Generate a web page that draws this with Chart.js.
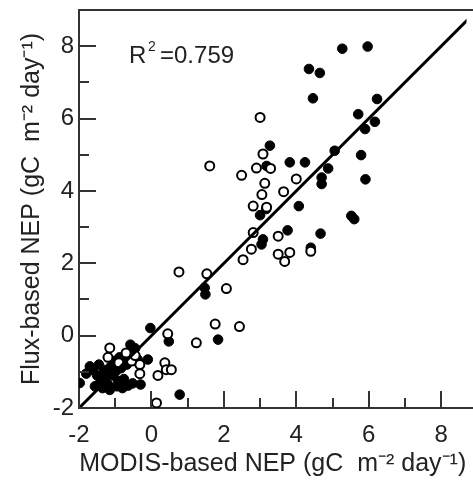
<!DOCTYPE html>
<html>
<head>
<meta charset="utf-8">
<script src="https://cdn.jsdelivr.net/npm/chart.js@4.4.0/dist/chart.umd.min.js"></script>
<style>
	body { margin: 0; background: #fff; overflow: hidden; }
</style>
</head>
<body>
<canvas id="myChart" width="473" height="482"></canvas>
<script>
// MODIS-based NEP (x) vs flux-based NEP (y), gC m-2 day-1
const filledX = [5.27, 5.97, 4.35, 4.65, 4.46, 6.23, 5.71, 6.17, 5.9, 5.06, 5.79, 3.27, 3.18, 3.82, 4.24, 4.88, 4.7, 4.7, 5.91, 4.07, 3.17, 3.0, 5.52, 5.6, 3.08, 3.04, 3.76, 4.67, 4.4, 1.47, 1.49, -0.03, 0.48, 1.84, 0.78,
	-1.98, -1.8, -1.7, -1.62, -1.56, -1.5, -1.45, -1.4, -1.35, -1.3, -1.25, -1.2, -1.12, -1.08, -1.02, -0.98, -0.92, -0.88, -0.84, -0.8, -0.76, -0.72, -0.68, -0.64, -0.58, -0.55, -0.5, -0.45, -0.38, -0.52, -0.3, -0.1, -1.15, -0.95];
const filledY = [7.93, 7.99, 7.37, 7.26, 6.56, 6.54, 6.12, 5.91, 5.71, 5.11, 4.99, 5.25, 4.69, 4.79, 4.79, 4.62, 4.37, 4.19, 4.32, 3.58, 3.5, 3.33, 3.31, 3.22, 2.66, 2.52, 2.91, 2.82, 2.43, 1.32, 1.14, 0.21, -0.16, -0.11, -1.63,
	-1.31, -1.05, -0.85, -0.95, -1.4, -1.1, -0.8, -1.25, -1.45, -0.95, -1.1, -1.35, -0.85, -1.1, -0.7, -0.98, -1.25, -0.6, -0.9, -1.45, -1.2, -0.55, -0.8, -1.38, -0.25, -0.45, -0.7, -0.35, -0.66, -1.32, -1.35, -0.66, -1.5, -1.4];

const openX = [3.0, 1.61, 2.49, 2.9, 3.08, 3.29, 3.13, 4.0, 3.05, 3.65, 2.81, 3.18, 2.81, 3.5, 2.76, 3.5, 3.82, 3.68, 2.53, 4.4, 0.76, 1.53, 2.07, 1.76, 2.43, 1.24, 0.45, 0.37, 0.41, 0.55, 0.18, 0.14,
	-0.32, -0.32, -0.55, -1.15, -0.7, -1.2, -0.9, -0.45];
const openY = [6.03, 4.69, 4.43, 4.63, 5.02, 4.62, 4.21, 4.33, 3.9, 3.98, 3.58, 3.55, 2.85, 2.75, 2.39, 2.25, 2.3, 2.05, 2.1, 2.33, 1.76, 1.71, 1.3, 0.32, 0.25, -0.2, 0.05, -0.75, -0.94, -0.94, -1.1, -1.86,
	-0.8, -1.05, -0.7, -0.34, -0.48, -0.6, -0.75, -0.55];

// 1:1 line
const lineX = [-2, 9];
const lineY = [-2, 9];

const xRange = [-2, 8.7];
const yRange = [-2, 9];
const tickValues = [-2, -1, 0, 1, 2, 3, 4, 5, 6, 7, 8];
const r2Text = "0.759";

const toPoints = (xs, ys) => xs.map((x, i) => ({ x: x, y: ys[i] }));

const FONT = "'Liberation Sans', Arial, Helvetica, sans-serif";

// no extra room for the end labels, the plot area is fixed by layout padding
const fixScale = (size) => (scale) => {
	if (scale.isHorizontal()) scale.height = size;
	else scale.width = size;
	scale.paddingTop = 0;
	scale.paddingBottom = 0;
	scale.paddingLeft = 0;
	scale.paddingRight = 0;
};

// only even values get a label
const evenLabel = (v) => (Number.isInteger(v) && v % 2 === 0 ? String(v) : "");

// inward tick marks, top frame line and the R² note
const decorations = {
	id: "decorations",
	afterDraw(chart) {
		const { ctx, chartArea } = chart;
		const xs = chart.scales.x;
		const ys = chart.scales.y;
		ctx.save();
		ctx.strokeStyle = "#333";
		ctx.lineWidth = 2;
		for (const v of tickValues) {
			const len = v % 2 === 0 ? 17 : 10;
			const px = Math.round(xs.getPixelForValue(v));
			ctx.beginPath();
			ctx.moveTo(px, xs.top);
			ctx.lineTo(px, xs.top - len);
			ctx.stroke();
			const py = Math.round(ys.getPixelForValue(v));
			ctx.beginPath();
			ctx.moveTo(ys.right, py);
			ctx.lineTo(ys.right + len, py);
			ctx.stroke();
		}
		// frame runs on to the right edge of the picture
		ctx.beginPath();
		ctx.moveTo(chartArea.left, chartArea.top);
		ctx.lineTo(chart.width, chartArea.top);
		ctx.moveTo(chartArea.right, xs.top);
		ctx.lineTo(chart.width, xs.top);
		ctx.stroke();

		ctx.fillStyle = "#222";
		ctx.textBaseline = "alphabetic";
		ctx.font = "24px " + FONT;
		ctx.fillText("R", 129, 63);
		ctx.font = "14px " + FONT;
		ctx.fillText("2", 148, 51);
		ctx.font = "24px " + FONT;
		ctx.fillText("=" + r2Text, 160, 63);
		ctx.restore();
	},
};

new Chart(document.getElementById("myChart").getContext("2d"), {
	type: "scatter",
	data: {
		datasets: [
			{
				type: "line",
				label: "1:1",
				data: toPoints(lineX, lineY),
				borderColor: "#000",
				borderWidth: 3,
				pointRadius: 0,
				fill: false,
			},
			{
				label: "open",
				data: toPoints(openX, openY),
				backgroundColor: "#fff",
				borderColor: "#000",
				borderWidth: 2,
				pointRadius: 4.5,
			},
			{
				label: "filled",
				data: toPoints(filledX, filledY),
				backgroundColor: "#000",
				borderColor: "#000",
				borderWidth: 1,
				pointRadius: 4.8,
			},
		],
	},
	options: {
		responsive: false,
		animation: false,
		layout: { padding: { top: 10, right: 1, left: 0, bottom: 0 } },
		plugins: { legend: { display: false }, tooltip: { enabled: false } },
		scales: {
			x: {
				type: "linear",
				min: xRange[0],
				max: xRange[1],
				afterFit: fixScale(74),
				grid: { display: false, drawTicks: false },
				border: { display: true, color: "#333", width: 2 },
				ticks: {
					stepSize: 1,
					includeBounds: false,
					padding: 13,
					color: "#222",
					font: { size: 24, family: FONT },
					maxRotation: 0,
					autoSkip: false,
					callback: evenLabel,
				},
				title: {
					display: true,
					text: "MODIS-based NEP (gC  m\u207B\u00B2 day\u207B\u00B9)",
					color: "#222",
					font: { size: 25, family: FONT },
					padding: { top: 0, bottom: 3 },
				},
			},
			y: {
				type: "linear",
				min: yRange[0],
				max: yRange[1],
				afterFit: fixScale(79),
				grid: { display: false, drawTicks: false },
				border: { display: true, color: "#333", width: 2 },
				ticks: {
					stepSize: 1,
					includeBounds: false,
					padding: 5,
					color: "#222",
					font: { size: 24, family: FONT },
					autoSkip: false,
					callback: evenLabel,
				},
				title: {
					display: true,
					text: "Flux-based NEP (gC  m\u207B\u00B2 day\u207B\u00B9)",
					color: "#222",
					font: { size: 25, family: FONT },
					padding: { top: 17, bottom: 0 },
				},
			},
		},
	},
	plugins: [decorations],
});
</script>
</body>
</html>
